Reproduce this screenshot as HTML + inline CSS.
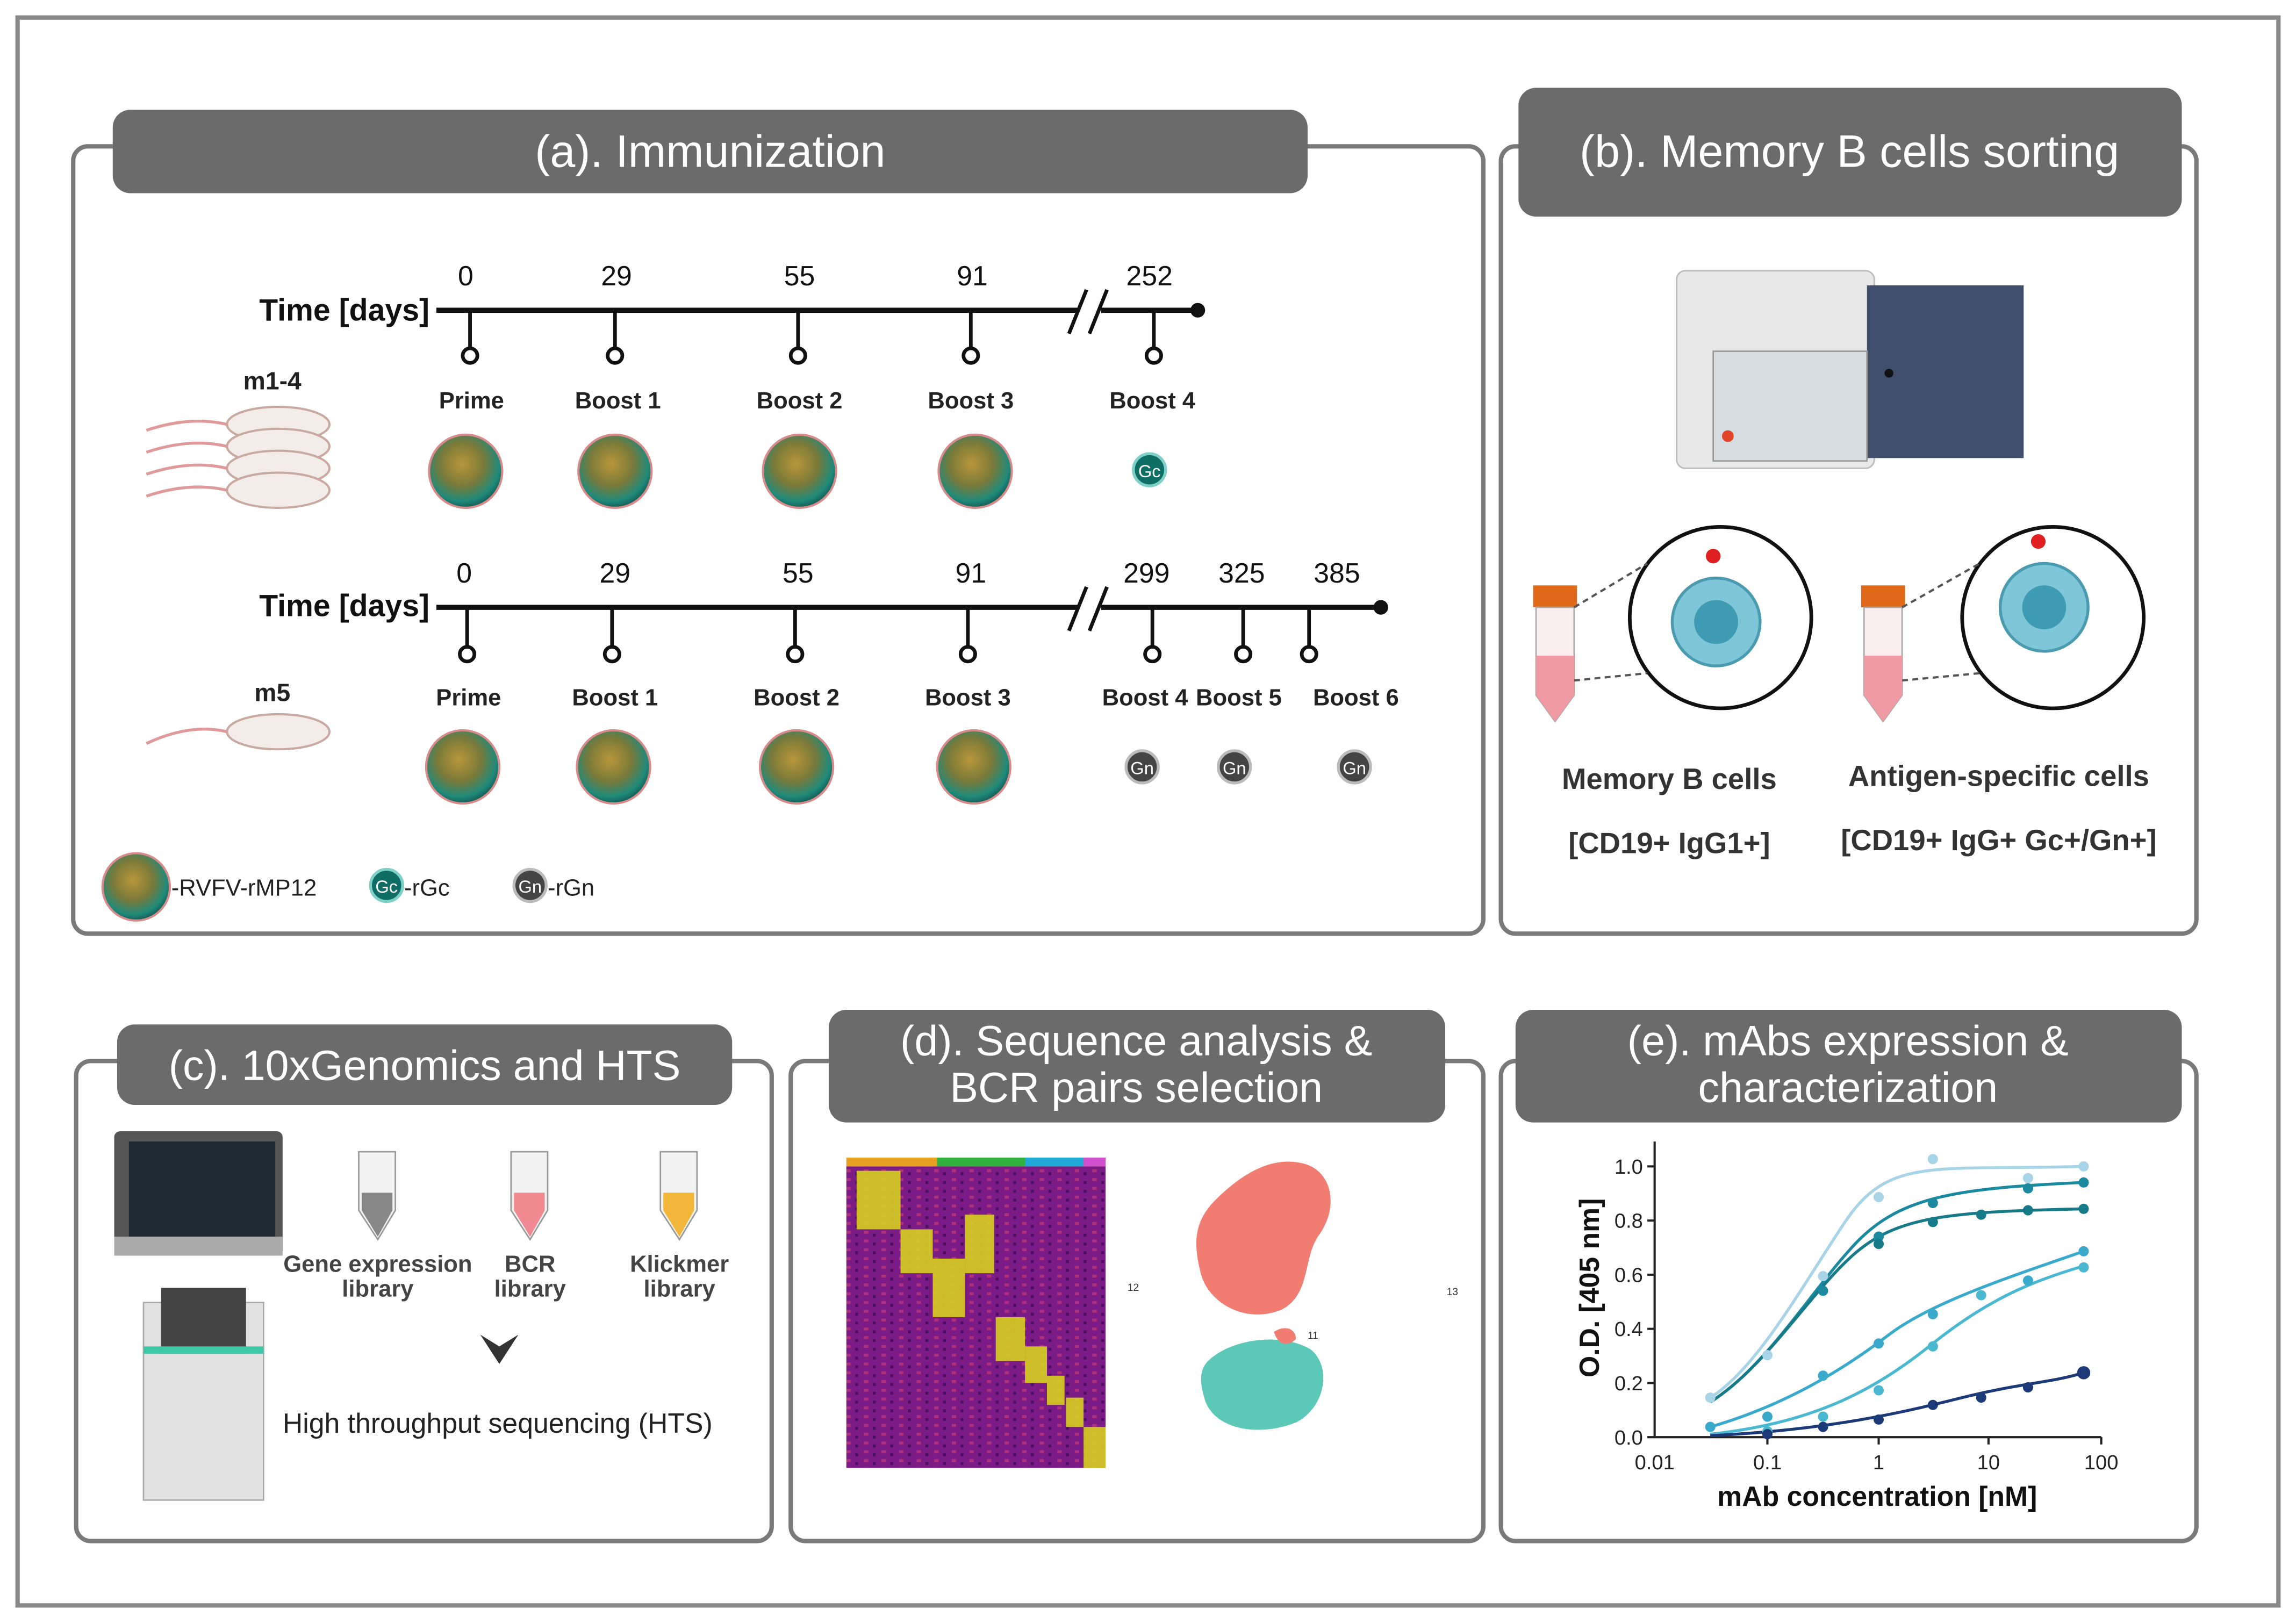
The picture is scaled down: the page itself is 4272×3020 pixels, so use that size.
<!DOCTYPE html>
<html><head><meta charset="utf-8"><style>
html,body{margin:0;padding:0;background:#fff;}
svg{display:block;}
text{font-family:"Liberation Sans",sans-serif;}
</style></head><body>
<svg width="4272" height="3020" viewBox="0 0 1568 1109" xmlns="http://www.w3.org/2000/svg" preserveAspectRatio="none">
<defs>
<radialGradient id="vir" cx="45%" cy="40%" r="60%">
<stop offset="0" stop-color="#b8963a"/><stop offset="0.5" stop-color="#7a7a3a"/><stop offset="0.85" stop-color="#1f8a7a"/><stop offset="1" stop-color="#155f58"/></radialGradient>
<pattern id="hm" width="12" height="6" patternUnits="userSpaceOnUse"><rect width="12" height="6" fill="#7a1b86"/><rect x="2" y="1" width="3" height="2" fill="#b0307a"/><rect x="8" y="3" width="2" height="2" fill="#4a1060"/></pattern>
</defs>
<rect x="0" y="0" width="1568" height="1109" fill="#fff"/>
<rect x="12" y="12" width="1544" height="1085" fill="none" stroke="#8a8a8a" stroke-width="3"/>

<!-- panel boxes -->
<g fill="none" stroke="#7a7a7a" stroke-width="3">
<rect x="50" y="100" width="963" height="538" rx="10"/>
<rect x="1025" y="100" width="475" height="538" rx="10"/>
<rect x="52" y="725" width="475" height="328" rx="10"/>
<rect x="540" y="725" width="473" height="328" rx="10"/>
<rect x="1025" y="725" width="475" height="328" rx="10"/>
</g>
<!-- headers -->
<g fill="#6b6b6b">
<rect x="77" y="75" width="816" height="57" rx="12"/>
<rect x="1037" y="60" width="453" height="88" rx="12"/>
<rect x="80" y="700" width="420" height="55" rx="12"/>
<rect x="566" y="690" width="421" height="77" rx="12"/>
<rect x="1035" y="690" width="455" height="77" rx="12"/>
</g>
<g fill="#fff" font-size="31" text-anchor="middle">
<text x="485" y="114">(a). Immunization</text>
<text x="1263" y="114">(b). Memory B cells sorting</text>
<text x="290" y="738" font-size="29">(c). 10xGenomics and HTS</text>
<text x="776" y="721" font-size="29">(d). Sequence analysis &amp;</text>
<text x="776" y="753" font-size="29">BCR pairs selection</text>
<text x="1262" y="721" font-size="29">(e). mAbs expression &amp;</text>
<text x="1262" y="753" font-size="29">characterization</text>
</g>

<!-- timeline 1 -->
<g font-size="20" fill="#111">
<text x="177" y="219" font-weight="bold" font-size="21">Time [days]</text>
<text x="177" y="421" font-weight="bold" font-size="21">Time [days]</text>
</g>
<g stroke="#111" stroke-width="3.5">
<line x1="298" y1="212" x2="736" y2="212"/><line x1="752" y1="212" x2="818" y2="212"/>
<line x1="298" y1="415" x2="736" y2="415"/><line x1="752" y1="415" x2="943" y2="415"/>
</g>
<g stroke="#111" stroke-width="2.5">
<line x1="730" y1="228" x2="742" y2="198"/><line x1="744" y1="228" x2="756" y2="198"/>
<line x1="730" y1="431" x2="742" y2="401"/><line x1="744" y1="431" x2="756" y2="401"/>
</g>
<circle cx="818" cy="212" r="5" fill="#111"/><circle cx="943" cy="415" r="5" fill="#111"/>
<g stroke="#111" stroke-width="2.5" fill="#fff">
<path d="M321 212V238M420 212V238M545 212V238M663 212V238M788 212V238"/>
<circle cx="321" cy="243" r="5"/><circle cx="420" cy="243" r="5"/><circle cx="545" cy="243" r="5"/><circle cx="663" cy="243" r="5"/><circle cx="788" cy="243" r="5"/>
<path d="M319 415V441M418 415V441M543 415V441M661 415V441M787 415V441M849 415V441M894 415V441"/>
<circle cx="319" cy="447" r="5"/><circle cx="418" cy="447" r="5"/><circle cx="543" cy="447" r="5"/><circle cx="661" cy="447" r="5"/><circle cx="787" cy="447" r="5"/><circle cx="849" cy="447" r="5"/><circle cx="894" cy="447" r="5"/>
</g>
<g font-size="19" fill="#111" text-anchor="middle">
<text x="318" y="195">0</text><text x="421" y="195">29</text><text x="546" y="195">55</text><text x="664" y="195">91</text><text x="785" y="195">252</text>
<text x="317" y="398">0</text><text x="420" y="398">29</text><text x="545" y="398">55</text><text x="663" y="398">91</text><text x="783" y="398">299</text><text x="848" y="398">325</text><text x="913" y="398">385</text>
</g>
<g font-size="16" font-weight="bold" fill="#222" text-anchor="middle">
<text x="322" y="279">Prime</text><text x="422" y="279">Boost 1</text><text x="546" y="279">Boost 2</text><text x="663" y="279">Boost 3</text><text x="787" y="279">Boost 4</text>
<text x="320" y="482">Prime</text><text x="420" y="482">Boost 1</text><text x="544" y="482">Boost 2</text><text x="661" y="482">Boost 3</text><text x="782" y="482">Boost 4</text><text x="846" y="482">Boost 5</text><text x="926" y="482">Boost 6</text>
<text x="186" y="266" font-size="17">m1-4</text><text x="186" y="479" font-size="17">m5</text>
</g>
<!-- viruses -->
<g fill="url(#vir)" stroke="#d98a8a" stroke-width="1.5">
<circle cx="318" cy="322" r="25"/><circle cx="420" cy="322" r="25"/><circle cx="546" cy="322" r="25"/><circle cx="666" cy="322" r="25"/>
<circle cx="316" cy="524" r="25"/><circle cx="419" cy="524" r="25"/><circle cx="544" cy="524" r="25"/><circle cx="665" cy="524" r="25"/>
<circle cx="93" cy="606" r="23"/>
</g>
<g font-size="12" text-anchor="middle" fill="#fff">
<circle cx="785" cy="321" r="11" fill="#0e6e66" stroke="#7fd0c8" stroke-width="2"/><text x="785" y="326">Gc</text>
<circle cx="264" cy="605" r="11" fill="#0e6e66" stroke="#7fd0c8" stroke-width="2"/><text x="264" y="610">Gc</text>
<circle cx="780" cy="524" r="11" fill="#444" stroke="#bbb" stroke-width="2"/><text x="780" y="529">Gn</text>
<circle cx="843" cy="524" r="11" fill="#444" stroke="#bbb" stroke-width="2"/><text x="843" y="529">Gn</text>
<circle cx="925" cy="524" r="11" fill="#444" stroke="#bbb" stroke-width="2"/><text x="925" y="529">Gn</text>
<circle cx="362" cy="605" r="11" fill="#444" stroke="#bbb" stroke-width="2"/><text x="362" y="610">Gn</text>
</g>
<g font-size="16" fill="#222"><text x="117" y="612">-RVFV-rMP12</text><text x="276" y="612">-rGc</text><text x="374" y="612">-rGn</text></g>
<!-- mice -->
<g fill="#f3ece8" stroke="#c9a9a0" stroke-width="1.5">
<ellipse cx="190" cy="290" rx="35" ry="12"/><ellipse cx="190" cy="305" rx="35" ry="12"/><ellipse cx="190" cy="320" rx="35" ry="12"/><ellipse cx="190" cy="335" rx="35" ry="12"/>
<ellipse cx="190" cy="500" rx="35" ry="12"/>
</g>
<g fill="none" stroke="#e09a9a" stroke-width="2">
<path d="M155 290q-25-6-55 4M155 305q-25-6-55 4M155 320q-25-6-55 4M155 335q-25-6-55 4M155 500q-25-6-55 8"/>
</g>

<!-- panel b: sorter -->
<rect x="1145" y="185" width="135" height="135" rx="6" fill="#e8e8e8" stroke="#bbb"/>
<rect x="1275" y="195" width="107" height="118" fill="#3e4e6b"/>
<rect x="1170" y="240" width="105" height="75" fill="#d5dde0" stroke="#999"/>
<circle cx="1180" cy="298" r="4" fill="#e0452a"/>
<circle cx="1290" cy="255" r="3" fill="#111"/>
<!-- tubes -->
<g>
<rect x="1047" y="400" width="30" height="15" fill="#e06a1a"/>
<path d="M1049 415h26v60l-13 18-13-18z" fill="#fbeef0" stroke="#aaa"/>
<path d="M1049 448h26v27l-13 18-13-18z" fill="#ef9aa2"/>
<rect x="1271" y="400" width="30" height="15" fill="#e06a1a"/>
<path d="M1273 415h26v60l-13 18-13-18z" fill="#fbeef0" stroke="#aaa"/>
<path d="M1273 448h26v27l-13 18-13-18z" fill="#ef9aa2"/>
</g>
<g fill="#fff" stroke="#111" stroke-width="2.5">
<circle cx="1175" cy="422" r="62"/><circle cx="1402" cy="422" r="62"/>
</g>
<g stroke="#555" stroke-dasharray="4 3" stroke-width="1.5"><path d="M1075 415L1125 385M1075 465L1125 460M1299 415L1352 385M1299 465L1352 460"/></g>
<g fill="#7ec6d8" stroke="#4a9ab0" stroke-width="2"><circle cx="1172" cy="425" r="30"/><circle cx="1396" cy="415" r="30"/></g>
<g fill="#3f9ab3"><circle cx="1172" cy="425" r="15"/><circle cx="1396" cy="415" r="15"/></g>
<circle cx="1170" cy="380" r="5" fill="#e02020"/><circle cx="1392" cy="370" r="5" fill="#e02020"/>
<g font-size="20" font-weight="bold" fill="#333" text-anchor="middle">
<text x="1140" y="539">Memory B cells</text><text x="1140" y="583">[CD19+ IgG1+]</text>
<text x="1365" y="537">Antigen-specific cells</text><text x="1365" y="581">[CD19+ IgG+ Gc+/Gn+]</text>
</g>

<!-- panel c -->
<rect x="78" y="773" width="115" height="85" rx="4" fill="#555"/>
<rect x="88" y="780" width="100" height="65" fill="#1d2a33"/>
<rect x="78" y="845" width="115" height="13" fill="#aaa"/>
<rect x="98" y="890" width="82" height="135" fill="#e2e2e2" stroke="#aaa"/>
<rect x="110" y="880" width="58" height="45" fill="#444"/>
<rect x="98" y="920" width="82" height="5" fill="#3fc8a8"/>
<g stroke="#999" fill="#f2f2f2">
<path d="M245 787h25v40l-12 20-13-20z"/><path d="M349 787h25v40l-12 20-13-20z"/><path d="M451 787h25v40l-12 20-13-20z"/>
</g>
<path d="M247 815h21v12l-10 18-11-18z" fill="#888"/>
<path d="M351 815h21v12l-10 18-11-18z" fill="#f08a90"/>
<path d="M453 815h21v12l-10 18-11-18z" fill="#f2b73a"/>
<g font-size="16" font-weight="bold" fill="#444" text-anchor="middle">
<text x="258" y="869">Gene expression</text><text x="258" y="886">library</text>
<text x="362" y="869">BCR</text><text x="362" y="886">library</text>
<text x="464" y="869">Klickmer</text><text x="464" y="886">library</text>
</g>
<path d="M328 912l13 20 13-20-13 8z" fill="#333"/>
<text x="193" y="979" font-size="19" fill="#222">High throughput sequencing (HTS)</text>

<!-- panel d -->
<rect x="578" y="797" width="177" height="206" fill="url(#hm)"/>
<rect x="578" y="791" width="177" height="6" fill="#e8a020"/>
<rect x="640" y="791" width="60" height="6" fill="#30b040"/><rect x="700" y="791" width="40" height="6" fill="#20a8d8"/><rect x="740" y="791" width="15" height="6" fill="#d050d0"/>
<g fill="#d8d020" opacity="0.9">
<rect x="585" y="800" width="30" height="40"/><rect x="615" y="840" width="22" height="30"/><rect x="637" y="860" width="22" height="40"/>
<rect x="659" y="830" width="20" height="40"/><rect x="680" y="900" width="20" height="30"/><rect x="700" y="920" width="15" height="25"/>
<rect x="715" y="940" width="12" height="20"/><rect x="728" y="955" width="12" height="20"/><rect x="740" y="975" width="15" height="28"/>
</g>
<path d="M830 820c20-20 40-30 60-25 20 5 25 30 10 50-10 15-5 40-25 50-25 10-50-5-55-25-5-20-5-35 10-50z" fill="#f17d72"/>
<path d="M825 930c15-15 50-20 70-8 15 12 10 40-10 50-25 10-55 5-62-15-3-10-5-20 2-27z" fill="#5cc8b8"/>
<path d="M870 910c8-5 15-2 15 5-5 5-12 5-15-5z" fill="#f17d72"/>
<g font-size="7" fill="#333"><text x="770" y="882">12</text><text x="988" y="885">13</text><text x="893" y="915">11</text></g>

<!-- panel e chart -->
<g stroke="#222" stroke-width="1.5" fill="none">
<path d="M1130 780V982H1435"/>
<path d="M1125 797h5M1125 834h5M1125 871h5M1125 908h5M1125 945h5M1125 982h5M1207 982v5M1283 982v5M1358 982v5M1435 982v5"/>
</g>
<g font-size="14" fill="#222" text-anchor="end">
<text x="1122" y="802">1.0</text><text x="1122" y="839">0.8</text><text x="1122" y="876">0.6</text><text x="1122" y="913">0.4</text><text x="1122" y="950">0.2</text><text x="1122" y="987">0.0</text>
</g>
<g font-size="14" fill="#222" text-anchor="middle">
<text x="1130" y="1004">0.01</text><text x="1207" y="1004">0.1</text><text x="1283" y="1004">1</text><text x="1358" y="1004">10</text><text x="1435" y="1004">100</text>
</g>
<text x="1282" y="1029" font-size="19" font-weight="bold" text-anchor="middle" fill="#111">mAb concentration [nM]</text>
<text transform="translate(1092,880) rotate(-90)" font-size="19" font-weight="bold" text-anchor="middle" fill="#111">O.D. [405 nm]</text>
<g fill="none" stroke-width="2">
<path d="M1168 955C1200 935 1230 880 1260 835S1320 800 1423 797" stroke="#a8d4e8"/>
<path d="M1168 958C1205 935 1235 885 1265 852S1330 812 1423 808" stroke="#1b8aa0"/>
<path d="M1168 958C1205 935 1235 885 1265 858S1330 828 1423 826" stroke="#167a88"/>
<path d="M1168 975C1220 960 1260 935 1290 912S1380 870 1423 855" stroke="#3aaacc"/>
<path d="M1168 980C1240 972 1280 950 1320 918S1390 875 1423 865" stroke="#4ab8d0"/>
<path d="M1168 981C1250 977 1300 965 1340 955S1400 945 1423 938" stroke="#1d3a78"/>
</g>
<g>
<g fill="#a8d4e8"><circle cx="1168" cy="955" r="3.5"/><circle cx="1207" cy="926" r="3.5"/><circle cx="1245" cy="872" r="3.5"/><circle cx="1283" cy="818" r="3.5"/><circle cx="1320" cy="792" r="3.5"/><circle cx="1385" cy="805" r="3.5"/><circle cx="1423" cy="797" r="3.5"/></g>
<g fill="#1b8aa0"><circle cx="1245" cy="882" r="3.5"/><circle cx="1283" cy="845" r="3.5"/><circle cx="1320" cy="822" r="3.5"/><circle cx="1385" cy="812" r="3.5"/><circle cx="1423" cy="808" r="3.5"/></g>
<g fill="#167a88"><circle cx="1283" cy="850" r="3.5"/><circle cx="1320" cy="835" r="3.5"/><circle cx="1353" cy="830" r="3.5"/><circle cx="1385" cy="827" r="3.5"/><circle cx="1423" cy="826" r="3.5"/></g>
<g fill="#3aaacc"><circle cx="1168" cy="975" r="3.5"/><circle cx="1207" cy="968" r="3.5"/><circle cx="1245" cy="940" r="3.5"/><circle cx="1283" cy="918" r="3.5"/><circle cx="1320" cy="898" r="3.5"/><circle cx="1385" cy="875" r="3.5"/><circle cx="1423" cy="855" r="3.5"/></g>
<g fill="#4ab8d0"><circle cx="1207" cy="978" r="3.5"/><circle cx="1245" cy="968" r="3.5"/><circle cx="1283" cy="950" r="3.5"/><circle cx="1320" cy="920" r="3.5"/><circle cx="1353" cy="885" r="3.5"/><circle cx="1423" cy="866" r="3.5"/></g>
<g fill="#1d3a78"><circle cx="1207" cy="980" r="3.5"/><circle cx="1245" cy="975" r="3.5"/><circle cx="1283" cy="970" r="3.5"/><circle cx="1320" cy="960" r="3.5"/><circle cx="1353" cy="955" r="3.5"/><circle cx="1385" cy="948" r="3.5"/><circle cx="1423" cy="938" r="4.5"/></g>
</g>
</svg>
</body></html>
